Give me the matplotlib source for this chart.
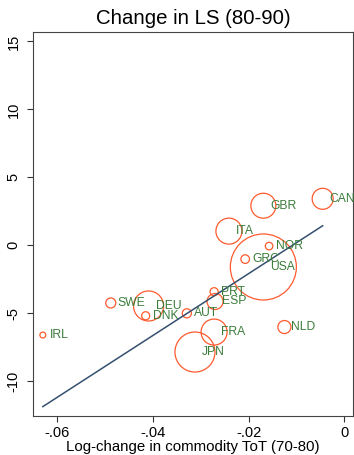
import numpy as np
import matplotlib
matplotlib.use('Agg')
import matplotlib.pyplot as plt

plt.rcParams['font.family'] = ['Liberation Sans', 'DejaVu Sans']

# Country data: log-change in commodity ToT (70-80) vs change in LS (80-90)
countries = ['IRL', 'SWE', 'DEU', 'DNK', 'AUT', 'PRT', 'ESP', 'GRC',
             'NOR', 'USA', 'ITA', 'GBR', 'CAN', 'NLD', 'FRA', 'JPN']
tot_change = [-0.0630, -0.0488, -0.0409, -0.0415, -0.0329, -0.0272, -0.0270, -0.0207,
              -0.0157, -0.0169, -0.0241, -0.0169, -0.0045, -0.0125, -0.0272, -0.0312]
ls_change = [-6.61, -4.25, -4.47, -5.19, -5.01, -3.42, -4.14, -1.02,
             -0.06, -1.60, 1.04, 2.91, 3.42, -6.02, -6.39, -7.86]
# bubble weights (USA = 100)
weights = [0.8, 2.3, 20.7, 1.5, 1.9, 1.5, 5.9, 1.7,
           1.3, 100, 15.5, 14.3, 10.1, 3.9, 15.5, 36.7]

# weighted fit line
fit_slope = 227.6
fit_intercept = 2.46

x = np.array(tot_change)
y = np.array(ls_change)
w = np.array(weights)

fig = plt.figure(figsize=(3.54, 4.55), dpi=100)
ax = fig.add_axes([0.094, 0.0857, 0.904, 0.8443])

ax.scatter(x, y, s=w * 22.6, facecolors='none', edgecolors='#ff5a2e',
           linewidths=0.9, zorder=2)

xs = np.array([x.min(), x.max()])
ax.plot(xs, fit_intercept + fit_slope * xs, color='#34506e', lw=1.1, zorder=3)

for name, xi, yi in zip(countries, x, y):
    ax.annotate(name, (xi, yi), xytext=(5, 0), textcoords='offset points',
                va='center', ha='left', fontsize=8.7, color='#3b7d3b', zorder=4)

ax.set_xlim(-0.065, 0.0019)
ax.set_ylim(-12.57, 15.71)
ax.set_xticks([-0.06, -0.04, -0.02, 0])
ax.set_xticklabels(['-.06', '-.04', '-.02', '0'])
ax.set_yticks([-10, -5, 0, 5, 10, 15])
ax.set_yticklabels(['-10', '-5', '0', '5', '10', '15'], rotation=90, va='center')
ax.tick_params(labelsize=10.5, length=4, width=0.8, color='#333333')
ax.tick_params(axis='x', pad=3)
ax.tick_params(axis='y', pad=5)
for sp in ax.spines.values():
    sp.set_color('#444444')
    sp.set_linewidth(0.8)

ax.set_title('Change in LS (80-90)', fontsize=14.7, pad=6)
ax.set_xlabel('Log-change in commodity ToT (70-80)', fontsize=10.8, labelpad=0)

fig.savefig('out.png', dpi=100)
